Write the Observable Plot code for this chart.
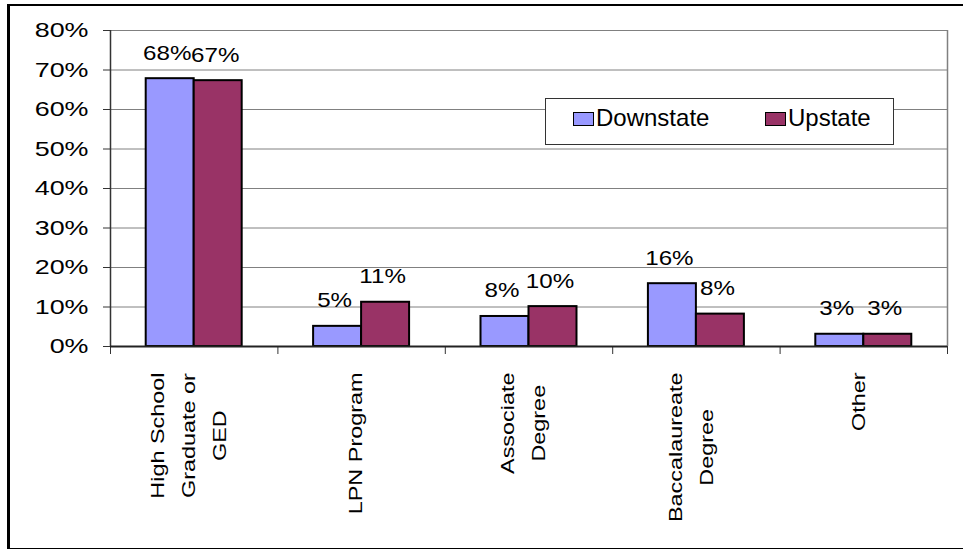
<!DOCTYPE html>
<html>
<head>
<meta charset="utf-8">
<script src="https://cdn.jsdelivr.net/npm/d3@7"></script>
<script src="https://cdn.jsdelivr.net/npm/@observablehq/plot@0.6"></script>
<style>
  html, body { margin: 0; padding: 0; background: #fff; overflow: hidden; }
  #wrap { position: relative; width: 963px; height: 550px; font-family: "Liberation Sans", Arial, sans-serif; }
  #chart svg { display: block; }
  #frame { position: absolute; left: 7px; top: 4px; width: 960px; height: 542px;
           border-left: 3px solid #000; border-top: 2px solid #000; border-bottom: 1px solid #000; pointer-events: none; }
  #legend { position: absolute; left: 545px; top: 98px; width: 347px; height: 45px;
            border: 1px solid #333; background: #fff; }
  .item { position: absolute; top: 0; height: 45px; }
  .sw { position: absolute; top: 13px; width: 19px; height: 12px; border: 1.5px solid #000; }
  .lab { position: absolute; left: 23px; top: 7px; font-size: 24px; line-height: 24px; color: #000; white-space: nowrap; }
</style>
</head>
<body>
<div id="wrap">
  <div id="chart"></div>
  <div id="legend"></div>
  <div id="frame"></div>
</div>
<script>
// ---- data ----
const categories = ["High School\nGraduate or\nGED", "LPN Program", "Associate\nDegree", "Baccalaureate\nDegree", "Other"];
const seriesNames = ["Downstate", "Upstate"];
const seriesColors = ["#9999ff", "#993366"];
const downstate = [67.8, 5.1, 7.6, 15.9, 3.1];
const upstate = [67.3, 11.2, 10.1, 8.2, 3.1];
const yTicks = [0, 10, 20, 30, 40, 50, 60, 70, 80];
const boundaryTicks = [0, 1, 2, 3, 4, 5];

// ---- build table ----
const BAR = 0.2867; // bar width as fraction of a category band
const rows = [];
categories.forEach((c, i) => {
  rows.push({cat: c, i, series: seriesNames[0], v: downstate[i], x1: i + 0.5 - BAR, x2: i + 0.5});
  rows.push({cat: c, i, series: seriesNames[1], v: upstate[i], x1: i + 0.5, x2: i + 0.5 + BAR});
});

const FONT = '"Liberation Sans", Arial, sans-serif';
const FS_CAT = 18, CAT_STRETCH = 1.3, LINE_SP = 31;
const VAL_FILL = "#000001", CAT_FILL = "#010000"; // near-black tags used to find the texts afterwards
const ctx = document.createElement("canvas").getContext("2d");
ctx.font = `${FS_CAT}px ${FONT}`;

// one text mark per label line, so each line can be stretched on its own
const catMarks = [];
categories.forEach((c, i) => {
  const lines = c.split("\n");
  const n = lines.length;
  const maxLen = Math.max(...lines.map(s => ctx.measureText(s).width)) * CAT_STRETCH;
  lines.forEach((line, k) => {
    catMarks.push(Plot.text([{line, i}], {
      x: d => d.i + 0.5, text: d => d.line, frameAnchor: "bottom",
      rotate: -90, textAnchor: "middle", lineAnchor: "middle",
      fontSize: FS_CAT, fill: CAT_FILL,
      dx: (k - (n - 1) / 2) * LINE_SP - 5, dy: 26 + maxLen / 2, ariaDescription: "cat-label"
    }));
  });
});

const chart = Plot.plot({
  width: 963, height: 550,
  marginLeft: 110, marginRight: 16, marginTop: 30, marginBottom: 204,
  style: {fontFamily: FONT, fontSize: "21px", color: "#000", background: "transparent", overflow: "visible"},
  x: {domain: [0, 5], axis: null},
  y: {domain: [0, 80], axis: null},
  color: {domain: seriesNames, range: seriesColors},
  marks: [
    Plot.ruleY(yTicks.slice(1), {stroke: "#808080", strokeWidth: 1}),
    Plot.ruleX([5], {stroke: "#808080", strokeWidth: 1.5}),
    Plot.axisY({ticks: yTicks, tickFormat: d => d + "%", tickSize: 7, tickPadding: 15,
                fontSize: 21, label: null, color: "#000", stroke: "#333"}),
    Plot.axisX({ticks: boundaryTicks, tickFormat: () => "", tickSize: 8, label: null, stroke: "#333"}),
    Plot.rectY(rows, {x1: "x1", x2: "x2", y: "v", fill: "series", stroke: "#000", strokeWidth: 2}),
    Plot.ruleX([0], {stroke: "#333", strokeWidth: 1.5}),
    Plot.ruleY([0], {stroke: "#222", strokeWidth: 2}),
    Plot.text(rows, {x: d => (d.x1 + d.x2) / 2, y: "v", text: d => Math.round(d.v) + "%",
                     lineAnchor: "bottom", dy: -19, dx: -3, fontSize: 21, fill: VAL_FILL,
                     ariaDescription: "value-label"}),
    ...catMarks
  ]
});
document.getElementById("chart").appendChild(chart);

// stretch text along its baseline to match the reference's wide lettering
function stretch(selector, f) {
  chart.querySelectorAll(selector).forEach(t => {
    const tsp = t.querySelectorAll("tspan");
    const els = tsp.length ? [...tsp] : [t];
    els.forEach(e => {
      const L = e.getComputedTextLength();
      if (L > 0) { e.setAttribute("textLength", L * f); e.setAttribute("lengthAdjust", "spacingAndGlyphs"); }
    });
  });
}
stretch('g[aria-label="y-axis tick label"] text', 1.28);
stretch(`g[fill="${VAL_FILL}"] text, text[fill="${VAL_FILL}"]`, 1.15);
stretch(`g[fill="${CAT_FILL}"] text, text[fill="${CAT_FILL}"]`, CAT_STRETCH);

// legend
const legend = document.getElementById("legend");
const itemLeft = [27, 219];
seriesNames.forEach((name, k) => {
  const it = document.createElement("div");
  it.className = "item";
  it.style.left = itemLeft[k] + "px";
  const sw = document.createElement("div");
  sw.className = "sw";
  sw.style.background = seriesColors[k];
  const lb = document.createElement("div");
  lb.className = "lab";
  lb.textContent = name;
  it.appendChild(sw); it.appendChild(lb);
  legend.appendChild(it);
});
</script>
</body>
</html>
